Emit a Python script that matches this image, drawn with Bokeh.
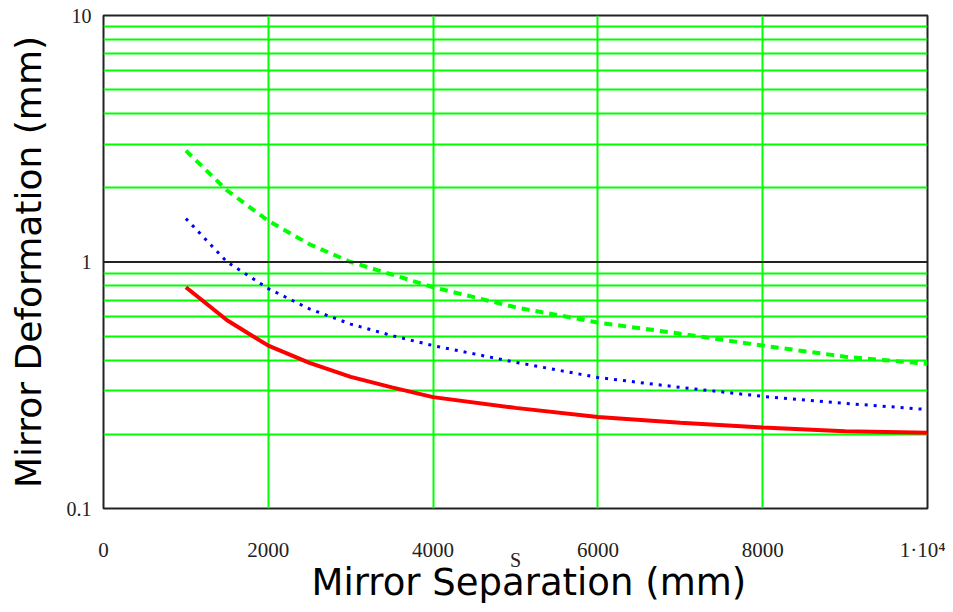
from bokeh.plotting import figure
from bokeh.models import (Range1d, FixedTicker, Span, Title,
                          PrintfTickFormatter)
from bokeh.embed import file_html
from bokeh.resources import INLINE

# Mirror separation s (mm)
separation = [1000, 1500, 2000, 2500, 3000, 3500, 4000, 5000, 6000, 7000, 8000, 9000, 10000]
# Mirror deformation (mm), three cases
deform_green = [2.83, 1.95, 1.47, 1.18, 1.00, 0.89, 0.79, 0.655, 0.568, 0.512, 0.458, 0.413, 0.386]
deform_blue = [1.50, 1.00, 0.78, 0.645, 0.56, 0.503, 0.458, 0.392, 0.340, 0.310, 0.285, 0.267, 0.252]
deform_red = [0.79, 0.58, 0.458, 0.39, 0.342, 0.31, 0.283, 0.256, 0.235, 0.223, 0.213, 0.206, 0.203]

x_ticks = [0, 2000, 4000, 6000, 8000, 10000]
x_grid = [2000, 4000, 6000, 8000]
y_ticks = [0.1, 1, 10]
y_grid = [0.2, 0.3, 0.4, 0.5, 0.6, 0.7, 0.8, 0.9, 2, 3, 4, 5, 6, 7, 8, 9]

GREEN = "#00ff00"
TICK_FONT = "Liberation Serif"
TITLE_FONT = "DejaVu Sans"

p = figure(width=945, height=610, y_axis_type="log",
           x_range=Range1d(0, 10000), y_range=Range1d(0.1, 10),
           output_backend="svg", toolbar_location=None,
           min_border_left=103, min_border_right=18,
           min_border_top=15, min_border_bottom=102)

p.background_fill_color = "white"
p.border_fill_color = "white"
p.outline_line_color = "#222222"
p.outline_line_width = 2

# grids
p.xgrid.ticker = FixedTicker(ticks=x_grid)
p.xgrid.grid_line_color = GREEN
p.xgrid.grid_line_width = 2
p.ygrid.ticker = FixedTicker(ticks=y_grid)
p.ygrid.grid_line_color = GREEN
p.ygrid.grid_line_width = 2
p.add_layout(Span(location=1, dimension="width", line_color="#222222", line_width=2))

# curves
p.line(separation, deform_green, line_color=GREEN, line_width=4, line_dash="8 6")
p.line(separation, deform_blue, line_color="#0000ff", line_width=3, line_dash="3 6")
p.line(separation, deform_red, line_color="#ff0000", line_width=4)

# x axis (tick labels and the variable name)
xa = p.xaxis[0]
xa.ticker = FixedTicker(ticks=x_ticks)
xa.major_label_overrides = {10000: "1·10⁴"}
xa.axis_line_color = None
xa.major_tick_line_color = None
xa.minor_tick_line_color = None
xa.major_tick_out = 0
xa.major_label_standoff = 29
xa.major_label_text_font = TICK_FONT
xa.major_label_text_font_size = "21px"
xa.major_label_text_color = "#222222"
xa.axis_label = "S"
xa.axis_label_text_font = TICK_FONT
xa.axis_label_text_font_size = "20px"
xa.axis_label_text_font_style = "normal"
xa.axis_label_text_color = "#222222"
xa.axis_label_standoff = -16

# x title
p.add_layout(Title(text="Mirror Separation (mm)", align="left", offset=208,
                   standoff=-30, text_font=TITLE_FONT, text_font_size="37px",
                   text_font_style="normal", text_color="black"), "below")

# y axis
ya = p.yaxis[0]
ya.ticker = FixedTicker(ticks=y_ticks)
ya.formatter = PrintfTickFormatter(format="%g")
ya.axis_line_color = None
ya.major_tick_line_color = None
ya.minor_tick_line_color = None
ya.major_tick_out = 0
ya.major_label_standoff = 12
ya.major_label_text_font = TICK_FONT
ya.major_label_text_font_size = "20px"
ya.major_label_text_color = "#222222"
ya.axis_label = "Mirror Deformation (mm)"
ya.axis_label_text_font = TITLE_FONT
ya.axis_label_text_font_size = "36px"
ya.axis_label_text_font_style = "normal"
ya.axis_label_text_color = "black"
ya.axis_label_standoff = 15

open("out.html", "w").write(file_html(p, INLINE))
